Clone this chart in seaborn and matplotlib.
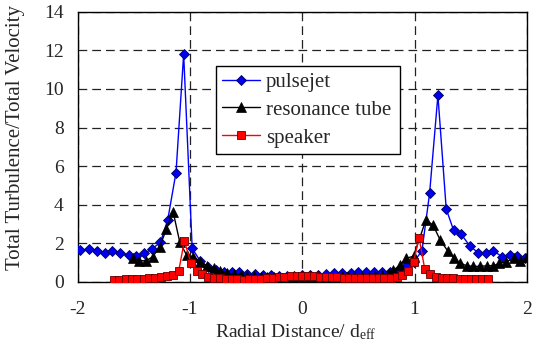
import numpy as np
import pandas as pd
import matplotlib
matplotlib.use("Agg")
import matplotlib.pyplot as plt
from matplotlib.ticker import MultipleLocator
import seaborn as sns

# ---- data ----
pulsejet_x = [-2.05, -1.975, -1.90, -1.83, -1.76, -1.69, -1.62, -1.545, -1.477, -1.406,
              -1.337, -1.263, -1.198, -1.124, -1.056, -0.98, -0.91, -0.84, -0.77, -0.70,
              -0.63, -0.56, -0.49, -0.42, -0.35, -0.28, -0.21, -0.14, -0.07, 0.0,
              0.07, 0.14, 0.21, 0.28, 0.35, 0.43, 0.50, 0.57, 0.64, 0.71,
              0.78, 0.855, 0.925, 0.995, 1.065, 1.133, 1.207, 1.281, 1.346, 1.415,
              1.489, 1.563, 1.634, 1.70, 1.777, 1.845, 1.91, 1.98]
pulsejet_y = [2.4, 1.66, 1.69, 1.62, 1.48, 1.62, 1.52, 1.38, 1.33, 1.48,
              1.72, 2.05, 3.21, 5.67, 11.8, 1.74, 1.1, 0.8, 0.62, 0.5,
              0.5, 0.5, 0.41, 0.4, 0.36, 0.35, 0.33, 0.33, 0.33, 0.35,
              0.35, 0.38, 0.4, 0.45, 0.48, 0.48, 0.5, 0.5, 0.5, 0.5,
              0.5, 0.55, 0.83, 1.05, 1.62, 4.59, 9.67, 3.78, 2.69, 2.47,
              1.88, 1.52, 1.52, 1.62, 1.31, 1.40, 1.36, 1.25]

resonance_x = [-1.51, -1.45, -1.39, -1.33, -1.27, -1.21, -1.15, -1.09, -1.03, -0.97,
               -0.91, -0.85, -0.79, -0.73, -0.67, -0.61, -0.55, -0.49, -0.43, -0.37,
               -0.31, -0.25, -0.19, -0.13, -0.07, -0.01, 0.05, 0.11, 0.17, 0.23,
               0.29, 0.35, 0.41, 0.47, 0.53, 0.59, 0.65, 0.71, 0.77, 0.81,
               0.87, 0.925, 0.99, 1.10, 1.163, 1.228, 1.293, 1.352, 1.406, 1.465,
               1.52, 1.58, 1.64, 1.70, 1.755, 1.815, 1.88, 1.94, 2.0]
resonance_y = [1.22, 1.10, 1.10, 1.31, 1.83, 2.72, 3.64, 2.05, 1.40, 1.31,
               1.05, 0.84, 0.71, 0.55, 0.45, 0.40, 0.36, 0.33, 0.30, 0.28,
               0.26, 0.25, 0.22, 0.20, 0.18, 0.15, 0.12, 0.10, 0.06, 0.05,
               0.06, 0.30, 0.25, 0.25, 0.26, 0.28, 0.30, 0.35, 0.45, 0.60,
               0.88, 1.22, 1.34, 3.21, 2.95, 2.17, 1.62, 1.22, 0.97, 0.84,
               0.81, 0.81, 0.84, 0.84, 0.97, 1.05, 1.22, 1.10, 1.31]

speaker_x = [-1.68, -1.63, -1.57, -1.52, -1.47, -1.41, -1.36, -1.31, -1.26, -1.20,
             -1.15, -1.10, -1.05, -0.99, -0.94, -0.89, -0.84, -0.79, -0.73, -0.68,
             -0.63, -0.58, -0.52, -0.47, -0.42, -0.37, -0.31, -0.26, -0.21, -0.16,
             -0.10, -0.05, 0.00, 0.05, 0.10, 0.16, 0.21, 0.26, 0.31, 0.37,
             0.42, 0.47, 0.52, 0.58, 0.63, 0.68, 0.73, 0.79, 0.84, 0.89,
             0.94, 0.99, 1.04, 1.09, 1.14, 1.19, 1.24, 1.29, 1.34, 1.40,
             1.45, 1.50, 1.55, 1.60, 1.65]
speaker_y = [0.10, 0.10, 0.14, 0.14, 0.14, 0.14, 0.19, 0.22, 0.24, 0.31,
             0.36, 0.57, 2.12, 0.97, 0.57, 0.41, 0.28, 0.22, 0.19, 0.14,
             0.14, 0.14, 0.10, 0.14, 0.14, 0.17, 0.19, 0.22, 0.24, 0.26,
             0.31, 0.31, 0.31, 0.31, 0.31, 0.28, 0.28, 0.28, 0.26, 0.22,
             0.19, 0.19, 0.19, 0.19, 0.19, 0.19, 0.19, 0.19, 0.28, 0.36,
             0.59, 1.05, 2.29, 0.66, 0.41, 0.28, 0.19, 0.19, 0.19, 0.16,
             0.16, 0.16, 0.16, 0.14, 0.14]

series_names = ["pulsejet", "resonance tube", "speaker"]
x_ticks = [-2, -1, 0, 1, 2]
y_ticks = [0, 2, 4, 6, 8, 10, 12, 14]

# ---- style ----
sns.set_style("white")
plt.rcParams["font.family"] = ["Liberation Serif", "DejaVu Serif"]
plt.rcParams["mathtext.fontset"] = "custom"
plt.rcParams["mathtext.rm"] = "Liberation Serif"
plt.rcParams["mathtext.it"] = "Liberation Serif:italic"
plt.rcParams["axes.unicode_minus"] = False

fig = plt.figure(figsize=(5.34, 3.49), dpi=100)
ax = fig.add_axes([0.1453, 0.192, 0.8416, 0.7745])

df_p = pd.DataFrame({"x": pulsejet_x, "y": pulsejet_y})
df_r = pd.DataFrame({"x": resonance_x, "y": resonance_y})
df_s = pd.DataFrame({"x": speaker_x, "y": speaker_y})

sns.lineplot(data=df_p, x="x", y="y", ax=ax, sort=False, color="#0000FF", lw=1.0,
             marker="D", markersize=5, markerfacecolor="#0000EE",
             markeredgecolor="#000066", markeredgewidth=0.6, label=series_names[0], zorder=3)
sns.lineplot(data=df_r, x="x", y="y", ax=ax, sort=False, color="black", lw=1.0,
             marker="^", markersize=7, markerfacecolor="black",
             markeredgecolor="black", markeredgewidth=0.5, label=series_names[1], zorder=4)
sns.lineplot(data=df_s, x="x", y="y", ax=ax, sort=False, color="#FF0000", lw=1.0,
             marker="s", markersize=5.5, markerfacecolor="#FF0000",
             markeredgecolor="#660000", markeredgewidth=0.6, label=series_names[2], zorder=5)

ax.set_xlim(-2, 2)
ax.set_ylim(0, 14)
ax.set_xticks(x_ticks)
ax.set_xticklabels([str(v) for v in x_ticks])
ax.set_yticks(y_ticks)
ax.set_yticklabels([str(v) for v in y_ticks])
ax.xaxis.set_minor_locator(MultipleLocator(0.2))
ax.yaxis.set_minor_locator(MultipleLocator(0.4))
ax.tick_params(axis="both", which="both", direction="in", top=False, right=False,
               labelsize=14, color="black")
ax.tick_params(axis="both", which="major", length=5, width=0.8)
ax.tick_params(axis="both", which="minor", length=4, width=0.8)
ax.tick_params(axis="y", which="major", pad=10)
ax.tick_params(axis="x", which="major", pad=14)

ax.grid(True, which="major", axis="both", color="#222222", linestyle=(0, (7, 4)), lw=0.9)
ax.set_axisbelow(True)
for sp in ax.spines.values():
    sp.set_color("black")
    sp.set_linewidth(1.0)

ax.set_xlabel(r"Radial Distance/ d$_{\mathrm{eff}}$", fontsize=14)
ax.set_ylabel("Total Turbulence/Total Velocity", fontsize=15)
ax.xaxis.set_label_coords(0.486, -0.150)
ax.yaxis.set_label_coords(-0.118, 0.535)

leg = ax.legend(loc="upper left", bbox_to_anchor=(0.308, 0.477, 0.409, 0.322),
                mode="expand", borderaxespad=0,
                fontsize=15, frameon=True, fancybox=False, edgecolor="black",
                framealpha=1, handlelength=1.8, handletextpad=0.3, labelspacing=0.4,
                borderpad=0.3)
leg.get_frame().set_linewidth(1.0)

fig.savefig("out.png", dpi=100)
